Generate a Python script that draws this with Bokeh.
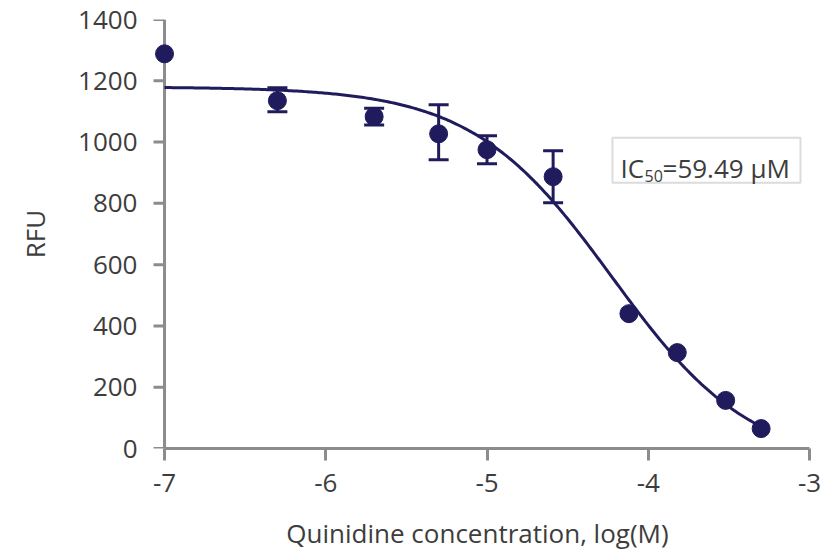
import numpy as np
from bokeh.plotting import figure
from bokeh.models import (Range1d, Whisker, TeeHead, ColumnDataSource, BoxAnnotation,
                          Label, FixedTicker)
from bokeh.embed import file_html
from bokeh.resources import INLINE

# ---- data ----
log_conc = [-7.0, -6.30, -5.70, -5.30, -5.00, -4.59, -4.12, -3.82, -3.52, -3.30]
rfu      = [1288, 1135, 1083, 1027, 975, 887, 440, 313, 157, 65]
err_up   = [1288, 1177, 1110, 1122, 1021, 972, 440, 313, 157, 65]
err_lo   = [1288, 1099, 1056, 942, 929, 802, 440, 313, 157, 65]

# four-parameter logistic fit shown in the chart
fit_top = 1180
fit_bottom = -60
fit_hill = 1.0
ic50_uM = 59.49
fit_x_start, fit_x_end = -7.0, -3.27

x_ticks = [-7, -6, -5, -4, -3]
x_tick_labels = ["-7", "-6", "-5", "-4", "-3"]
y_ticks = [0, 200, 400, 600, 800, 1000, 1200, 1400]

NAVY = "#1f1b5c"
AXIS = "#8c8c8c"
TEXT = "#3d3d3d"
FONT = "Open Sans"
FS = "26px"

X0 = -7.118
px_per_x = 645 / 4.0  # pixels per log unit

p = figure(width=836, height=553, output_backend="svg", toolbar_location=None,
           x_range=Range1d(X0, -3.0), y_range=Range1d(0, 1400),
           min_border_left=145, min_border_right=27, min_border_top=19,
           min_border_bottom=105)
p.outline_line_color = None
p.grid.visible = False
p.background_fill_color = "white"

# y-axis line and ticks at x = -7
p.segment(x0=[-7], y0=[y_ticks[0]], x1=[-7], y1=[y_ticks[-1]],
          line_color=AXIS, line_width=3)
p.segment(x0=[-7 - 11 / px_per_x] * len(y_ticks), y0=y_ticks,
          x1=[-7] * len(y_ticks), y1=y_ticks, line_color=AXIS, line_width=3)

# fitted curve
log_ic50 = np.log10(ic50_uM * 1e-6)
xf = np.linspace(fit_x_start, fit_x_end, 300)
yf = fit_bottom + (fit_top - fit_bottom) / (1 + 10 ** (fit_hill * (xf - log_ic50)))
p.line(xf, yf, line_color=NAVY, line_width=3)

src = ColumnDataSource(dict(x=log_conc, y=rfu))
has_err = ColumnDataSource(dict(x=log_conc[1:6], up=err_up[1:6], lo=err_lo[1:6]))
w = Whisker(base="x", upper="up", lower="lo", source=has_err, line_color=NAVY,
            line_width=3,
            upper_head=TeeHead(size=20, line_color=NAVY, line_width=3),
            lower_head=TeeHead(size=20, line_color=NAVY, line_width=3))
p.add_layout(w)
p.scatter("x", "y", source=src, size=18, fill_color=NAVY, line_color=NAVY)

# axes
for ax in (p.xaxis[0], p.yaxis[0]):
    ax.axis_line_color = AXIS
    ax.axis_line_width = 3
    ax.major_tick_line_color = AXIS
    ax.major_tick_line_width = 3
    ax.minor_tick_line_color = None
    ax.major_tick_in = 0
    ax.major_label_text_font = FONT
    ax.major_label_text_font_size = FS
    ax.major_label_text_color = TEXT
    ax.axis_label_text_font = FONT
    ax.axis_label_text_font_size = FS
    ax.axis_label_text_color = TEXT
    ax.axis_label_text_font_style = "normal"

p.xaxis.ticker = FixedTicker(ticks=x_ticks)
p.xaxis.major_label_overrides = {t: s for t, s in zip(x_ticks, x_tick_labels)}
p.yaxis.ticker = FixedTicker(ticks=y_ticks)
p.xaxis.bounds = (-7, -3)
p.xaxis.major_tick_out = 12
p.xaxis.major_label_standoff = 13
p.xaxis.axis_label = "Quinidine concentration, log(M)"
p.xaxis.axis_label_standoff = 20
p.yaxis.axis_line_color = None
p.yaxis.major_tick_line_color = None
p.yaxis.major_tick_out = 0
p.yaxis.major_label_standoff = 8
p.yaxis.axis_label = "RFU"
p.yaxis.axis_label_standoff = 22

# IC50 box
p.add_layout(BoxAnnotation(left=-4.222, right=-3.056, top=1014, bottom=867,
                           fill_color="white", fill_alpha=1.0,
                           line_color=AXIS, line_width=2))
p.add_layout(Label(x=-4.172, y=916, text="IC", text_font=FONT, text_font_size=FS,
                   text_color=TEXT, text_baseline="alphabetic"))
p.add_layout(Label(x=-4.172, y=890, x_offset=24, text="50", text_font=FONT,
                   text_font_size="16px", text_color=TEXT, text_baseline="alphabetic"))
p.add_layout(Label(x=-4.172, y=916, x_offset=42, text="=59.49 µM", text_font=FONT,
                   text_font_size=FS, text_color=TEXT, text_baseline="alphabetic"))

open("out.html", "w").write(file_html(p, INLINE))
